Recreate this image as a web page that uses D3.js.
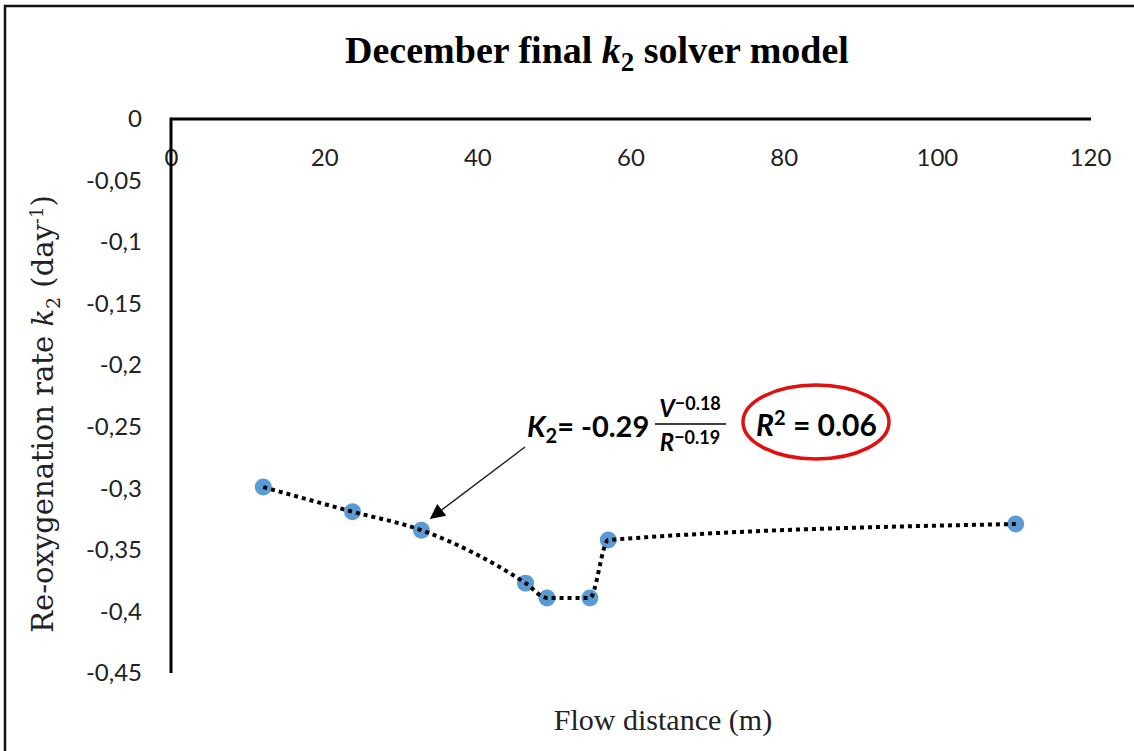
<!DOCTYPE html>
<html><head><meta charset="utf-8">
<script src="https://cdn.jsdelivr.net/npm/d3@7"></script>
<style>body{margin:0;background:#fff}svg{display:block}</style>
</head><body>
<svg id="c" width="1134" height="751"></svg>
<script>
const distance = [12.05, 23.7, 32.7, 46.3, 49.1, 54.7, 57.1, 110.3];
const k2 = [-0.299, -0.319, -0.334, -0.377, -0.389, -0.389, -0.342, -0.329];
const xTicks = [0, 20, 40, 60, 80, 100, 120];
const yTicks = [0, -0.05, -0.1, -0.15, -0.2, -0.25, -0.3, -0.35, -0.4, -0.45];
const yTickLabels = ["0", "-0,05", "-0,1", "-0,15", "-0,2", "-0,25", "-0,3", "-0,35", "-0,4", "-0,45"];

const svg = d3.select("#c");
svg.append("rect").attr("x", 5).attr("y", 6).attr("width", 1140).attr("height", 760)
  .attr("fill", "none").attr("stroke", "#111").attr("stroke-width", 2.5);

const x = d3.scaleLinear().domain([0, 120]).range([171, 1090]);
const y = d3.scaleLinear().domain([0, -0.45]).range([119, 673]);
const tf = "Lato, 'Open Sans', sans-serif";

const xa = svg.append("g").attr("transform", `translate(0,${y(0)})`)
  .call(d3.axisBottom(x).tickValues(xTicks).tickSize(0).tickPadding(30).tickFormat(d => String(d)));
xa.select(".domain").attr("stroke", "#000").attr("stroke-width", 3).attr("d", `M${x(0)},0H${x(120)+1}`);
xa.selectAll("text").attr("font-family", tf).attr("font-size", 24).attr("fill", "#222");

const ya = svg.append("g").attr("transform", `translate(${x(0)},0)`)
  .call(d3.axisLeft(y).tickValues(yTicks).tickSize(0).tickPadding(29).tickFormat((d, i) => yTickLabels[i]));
ya.select(".domain").attr("stroke", "#000").attr("stroke-width", 3).attr("d", `M0,${y(0)-1.5}V${y(-0.45)}`);
ya.selectAll("text").attr("font-family", tf).attr("font-size", 24).attr("fill", "#222");

// title
const t = svg.append("text").attr("x", 597).attr("y", 63).attr("text-anchor", "middle")
  .attr("font-family", "'Liberation Serif', serif").attr("font-weight", "bold").attr("font-size", 38).attr("fill", "#000");
t.append("tspan").text("December final ");
t.append("tspan").attr("font-style", "italic").text("k");
t.append("tspan").attr("font-size", 27).attr("dy", 8).text("2");
t.append("tspan").attr("dy", -8).text(" solver model");

// axis titles
svg.append("text").attr("x", 663).attr("y", 730).attr("text-anchor", "middle")
  .attr("font-family", "'Liberation Serif', serif").attr("font-size", 30).attr("fill", "#222").text("Flow distance (m)");
const yt = svg.append("text").attr("transform", "translate(53,414) rotate(-90)").attr("text-anchor", "middle")
  .attr("font-family", "'DejaVu Serif', serif").attr("font-size", 29).attr("fill", "#222");
yt.append("tspan").text("Re-oxygenation rate ");
yt.append("tspan").attr("font-style", "italic").text("k");
yt.append("tspan").attr("font-size", 19).attr("dy", 7).text("2");
yt.append("tspan").attr("dy", -7).text("  (day");
yt.append("tspan").attr("font-size", 18).attr("dy", -10).text("-1");
yt.append("tspan").attr("dy", 10).text(")");

// points and line
const data = distance.map((d, i) => ({x: d, y: k2[i]}));
svg.append("g").selectAll("circle").data(data).join("circle")
  .attr("cx", d => x(d.x)).attr("cy", d => y(d.y)).attr("r", 8.5).attr("fill", "#5B9BD5");
svg.append("path").datum(data)
  .attr("d", d3.line().x(d => x(d.x)).y(d => y(d.y)).curve(d3.curveMonotoneX))
  .attr("fill", "none").attr("stroke", "#000").attr("stroke-width", 4).attr("stroke-dasharray", "4 4");

// arrow
svg.append("defs").append("marker").attr("id", "ah").attr("viewBox", "0 0 10 10")
  .attr("refX", 9).attr("refY", 5).attr("markerWidth", 22).attr("markerHeight", 15)
  .attr("markerUnits", "userSpaceOnUse").attr("orient", "auto")
  .append("path").attr("d", "M0,0L10,5L0,10Z").attr("fill", "#000");
svg.append("line").attr("x1", 525).attr("y1", 447).attr("x2", 431).attr("y2", 518)
  .attr("stroke", "#222").attr("stroke-width", 1.5).attr("marker-end", "url(#ah)");

// formula
const ff = "Lato, 'Open Sans', sans-serif";
const f = svg.append("text").attr("x", 527).attr("y", 437).attr("font-family", ff).attr("font-weight", "bold").attr("font-size", 29).attr("fill", "#000");
f.append("tspan").attr("font-style", "italic").text("K");
f.append("tspan").attr("font-size", 20).attr("dy", 6).text("2");
f.append("tspan").attr("dy", -6).text("= -0.29");
svg.append("line").attr("x1", 655).attr("x2", 726).attr("y1", 424).attr("y2", 424).attr("stroke", "#000").attr("stroke-width", 1.5);
const num = svg.append("text").attr("x", 690).attr("y", 417).attr("text-anchor", "middle").attr("font-family", ff).attr("font-weight", "bold").attr("font-size", 24).attr("fill", "#000");
num.append("tspan").attr("font-style", "italic").text("V");
num.append("tspan").attr("font-size", 18).attr("dy", -7).text("−0.18");
const den = svg.append("text").attr("x", 690).attr("y", 451).attr("text-anchor", "middle").attr("font-family", ff).attr("font-weight", "bold").attr("font-size", 24).attr("fill", "#000");
den.append("tspan").attr("font-style", "italic").text("R");
den.append("tspan").attr("font-size", 18).attr("dy", -7).text("−0.19");
const r2 = svg.append("text").attr("x", 756).attr("y", 436).attr("font-family", ff).attr("font-weight", "bold").attr("font-size", 30).attr("fill", "#000");
r2.append("tspan").attr("font-style", "italic").text("R");
r2.append("tspan").attr("font-size", 20).attr("dy", -11).text("2");
r2.append("tspan").attr("dy", 11).text(" = 0.06");
svg.append("ellipse").attr("cx", 816).attr("cy", 422).attr("rx", 73).attr("ry", 37)
  .attr("fill", "none").attr("stroke", "#e01010").attr("stroke-width", 3.5);
</script>
</body></html>
